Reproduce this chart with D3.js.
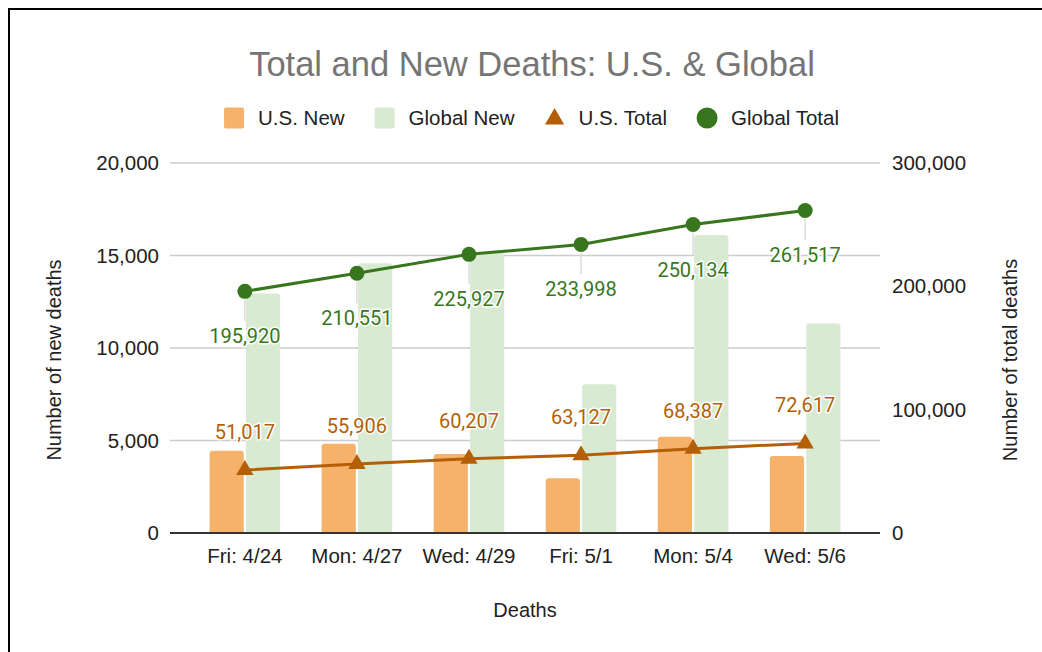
<!DOCTYPE html>
<html>
<head>
<meta charset="utf-8">
<script src="https://cdn.jsdelivr.net/npm/d3@7"></script>
<style>
  body { margin: 0; background: #fff; }
  svg { display: block; }
</style>
</head>
<body>
<div id="chart"></div>
<script>
const categories = ["Fri: 4/24", "Mon: 4/27", "Wed: 4/29", "Fri: 5/1", "Mon: 5/4", "Wed: 5/6"];
const usNew = [4450, 4830, 4270, 2960, 5200, 4160];
const globalNew = [12950, 14580, 15150, 8040, 16110, 11330];
const usTotal = [51017, 55906, 60207, 63127, 68387, 72617];
const globalTotal = [195920, 210551, 225927, 233998, 250134, 261517];
const leftTicks = [0, 5000, 10000, 15000, 20000];
const rightTicks = [0, 100000, 200000, 300000];

const width = 1042;
const height = 652;
const margin = { top: 163, right: 162, bottom: 119, left: 170 };
const font = "Arial, 'Liberation Sans', sans-serif";
const labelFont = "Roboto, 'Noto Sans', sans-serif";

const colors = {
  usNew: "#f6b26b",
  globalNew: "#d9ead3",
  usTotal: "#b45f06",
  globalTotal: "#38761d",
};

const svg = d3
  .select("#chart")
  .append("svg")
  .attr("width", width)
  .attr("height", height);

// frame (right and bottom edges run off the picture)
svg
  .append("rect")
  .attr("x", 9)
  .attr("y", 9)
  .attr("width", width + 50)
  .attr("height", height + 50)
  .attr("fill", "none")
  .attr("stroke", "#000")
  .attr("stroke-width", 2);

const x = d3
  .scaleBand()
  .domain(categories)
  .range([margin.left, width - margin.right])
  .paddingInner(0.37)
  .paddingOuter(0.353);

const xInner = d3
  .scaleBand()
  .domain(["us", "global"])
  .range([0, x.bandwidth()])
  .paddingInner(0.06);

const yLeft = d3
  .scaleLinear()
  .domain([0, 20000])
  .range([height - margin.bottom, margin.top]);

const yRight = d3
  .scaleLinear()
  .domain([0, 300000])
  .range([height - margin.bottom, margin.top]);

const cx = (i) => x(categories[i]) + x.bandwidth() / 2;

// title
svg
  .append("text")
  .attr("x", 532)
  .attr("y", 76)
  .attr("text-anchor", "middle")
  .attr("font-family", font)
  .attr("font-size", 34.5)
  .attr("fill", "#757575")
  .text("Total and New Deaths: U.S. & Global");

// gridlines
svg
  .append("g")
  .selectAll("line")
  .data(leftTicks.filter((t) => t > 0))
  .enter()
  .append("line")
  .attr("x1", margin.left)
  .attr("x2", width - margin.right)
  .attr("y1", (d) => yLeft(d))
  .attr("y2", (d) => yLeft(d))
  .attr("stroke", "#cccccc")
  .attr("stroke-width", 1.5);

// faint leader lines under the global total labels
svg
  .append("g")
  .selectAll("line")
  .data(globalTotal)
  .enter()
  .append("line")
  .attr("x1", (d, i) => cx(i))
  .attr("x2", (d, i) => cx(i))
  .attr("y1", (d) => yRight(d) + 8)
  .attr("y2", (d) => yRight(d) + 30)
  .attr("stroke", "#dddddd")
  .attr("stroke-width", 1.5);

// bars with rounded tops
function barPath(x0, w, yTop, yBase, r) {
  r = Math.min(r, w / 2, yBase - yTop);
  return `M${x0},${yBase}V${yTop + r}Q${x0},${yTop} ${x0 + r},${yTop}` +
    `H${x0 + w - r}Q${x0 + w},${yTop} ${x0 + w},${yTop + r}V${yBase}Z`;
}

const barSeries = [
  { key: "us", values: usNew, color: colors.usNew },
  { key: "global", values: globalNew, color: colors.globalNew },
];

barSeries.forEach((s) => {
  svg
    .append("g")
    .selectAll("path")
    .data(s.values)
    .enter()
    .append("path")
    .attr("fill", s.color)
    .attr("d", (d, i) =>
      barPath(
        x(categories[i]) + xInner(s.key),
        xInner.bandwidth(),
        yLeft(d),
        yLeft(0),
        3,
      ),
    );
});

// baseline
svg
  .append("line")
  .attr("x1", margin.left)
  .attr("x2", width - margin.right)
  .attr("y1", yLeft(0))
  .attr("y2", yLeft(0))
  .attr("stroke", "#333333")
  .attr("stroke-width", 2);

// lines
const line = (scale) =>
  d3
    .line()
    .x((d, i) => cx(i))
    .y((d) => scale(d));

svg
  .append("path")
  .datum(globalTotal)
  .attr("fill", "none")
  .attr("stroke", colors.globalTotal)
  .attr("stroke-width", 3)
  .attr("d", line(yRight));

svg
  .append("path")
  .datum(usTotal)
  .attr("fill", "none")
  .attr("stroke", colors.usTotal)
  .attr("stroke-width", 3)
  .attr("d", line(yRight));

svg
  .append("g")
  .selectAll("circle")
  .data(globalTotal)
  .enter()
  .append("circle")
  .attr("cx", (d, i) => cx(i))
  .attr("cy", (d) => yRight(d))
  .attr("r", 7.5)
  .attr("fill", colors.globalTotal);

const triangle = d3.symbol().type(d3.symbolTriangle).size(130);

svg
  .append("g")
  .selectAll("path")
  .data(usTotal)
  .enter()
  .append("path")
  .attr("transform", (d, i) => `translate(${cx(i)},${yRight(d)})`)
  .attr("d", triangle)
  .attr("fill", colors.usTotal);

// data labels
const fmt = d3.format(",");

function dataLabels(values, color, dy) {
  svg
    .append("g")
    .selectAll("text")
    .data(values)
    .enter()
    .append("text")
    .attr("x", (d, i) => cx(i))
    .attr("y", (d) => yRight(d) + dy)
    .attr("text-anchor", "middle")
    .attr("font-family", labelFont)
    .attr("font-size", 20)
    .attr("fill", color)
    .attr("stroke", "#fff")
    .attr("stroke-width", 3)
    .attr("stroke-linejoin", "round")
    .attr("paint-order", "stroke")
    .text((d) => fmt(d));
}

dataLabels(globalTotal, colors.globalTotal, 52);
dataLabels(usTotal, colors.usTotal, -31);

// axes
const axisText = (sel) =>
  sel
    .attr("font-family", font)
    .attr("font-size", 20.5)
    .attr("fill", "#222");

const leftAxis = svg
  .append("g")
  .attr("transform", `translate(${margin.left},0)`)
  .call(d3.axisLeft(yLeft).tickValues(leftTicks).tickFormat(fmt).tickSize(0).tickPadding(11));
leftAxis.select(".domain").remove();
leftAxis.selectAll("text").call(axisText);

const rightAxis = svg
  .append("g")
  .attr("transform", `translate(${width - margin.right},0)`)
  .call(d3.axisRight(yRight).tickValues(rightTicks).tickFormat(fmt).tickSize(0).tickPadding(12));
rightAxis.select(".domain").remove();
rightAxis.selectAll("text").call(axisText);

const bottomAxis = svg
  .append("g")
  .attr("transform", `translate(0,${yLeft(0)})`)
  .call(d3.axisBottom(x).tickSize(0).tickPadding(15));
bottomAxis.select(".domain").remove();
bottomAxis.selectAll("text").call(axisText);

// axis titles
svg
  .append("text")
  .attr("x", 525)
  .attr("y", 617)
  .attr("text-anchor", "middle")
  .call(axisText)
  .attr("font-size", 20)
  .text("Deaths");

svg
  .append("text")
  .attr("transform", "translate(61,360) rotate(-90)")
  .attr("text-anchor", "middle")
  .call(axisText)
  .attr("font-size", 20)
  .text("Number of new deaths");

svg
  .append("text")
  .attr("transform", "translate(1017,360) rotate(-90)")
  .attr("text-anchor", "middle")
  .call(axisText)
  .attr("font-size", 20)
  .text("Number of total deaths");

// legend
const legendItems = [
  { name: "U.S. New", type: "square", color: colors.usNew },
  { name: "Global New", type: "square", color: colors.globalNew },
  { name: "U.S. Total", type: "triangle", color: colors.usTotal },
  { name: "Global Total", type: "circle", color: colors.globalTotal },
];

const legend = svg.append("g");
let lx = 0;
legendItems.forEach((item) => {
  const g = legend.append("g").attr("transform", `translate(${lx},0)`);
  if (item.type === "square") {
    g.append("rect")
      .attr("x", 0)
      .attr("y", -10.5)
      .attr("width", 20)
      .attr("height", 21)
      .attr("rx", 2)
      .attr("fill", item.color);
  } else if (item.type === "triangle") {
    g.append("path")
      .attr("transform", "translate(10,1)")
      .attr("d", d3.symbol().type(d3.symbolTriangle).size(160))
      .attr("fill", item.color);
  } else {
    g.append("circle")
      .attr("cx", 10)
      .attr("cy", 0)
      .attr("r", 10.5)
      .attr("fill", item.color);
  }
  const t = g
    .append("text")
    .attr("x", 34)
    .attr("y", 7)
    .call(axisText)
    .text(item.name);
  lx += 34 + t.node().getComputedTextLength() + 30;
});
const legendWidth = lx - 30;
legend.attr("transform", `translate(${531.5 - legendWidth / 2},118)`);
</script>
</body>
</html>
